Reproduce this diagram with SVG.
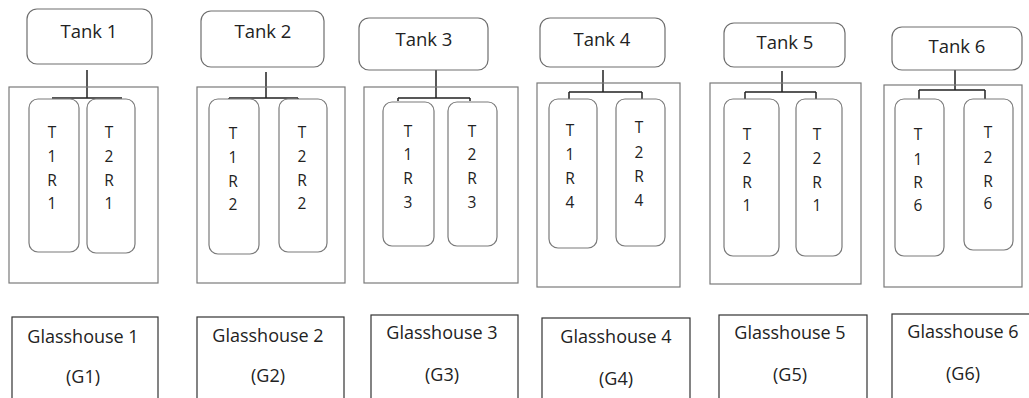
<svg xmlns="http://www.w3.org/2000/svg" width="1029" height="398" viewBox="0 0 1029 398">
<style>
.tank{fill:#fff;stroke:#6e6e6e;stroke-width:1.2}
.outer{fill:none;stroke:#7a7a7a;stroke-width:1.2}
.inner{fill:#fff;stroke:#7a7a7a;stroke-width:1.2}
.gh{fill:#fff;stroke:#333;stroke-width:1.2}
.con{fill:none;stroke:#222;stroke-width:1.5}
text{font-family:"Open Sans","Noto Sans",sans-serif;fill:#222;text-anchor:middle}
.t{font-size:18.5px}
.s{font-size:15.5px}
.g{font-size:18px}
</style>
<rect width="1029" height="398" fill="#fff"/>
<g id="connectors">
<path class="con" d="M87 70V98M52 98H122"/>
<path class="con" d="M266 72V98M229 98H298M229 98V101M298 98V101"/>
<path class="con" d="M436 70V98M398 98H470M398 98V101M470 98V101"/>
<path class="con" d="M603 70V92M569 92H642M569 92V99M642 92V99"/>
<path class="con" d="M782 71V92M745 92H816M745 92V99M816 92V99"/>
<path class="con" d="M955 70V90M919 90H985M919 90V99M985 90V99"/>
</g>
<g id="tank1"><rect class="tank" x="27" y="9" width="125" height="55" rx="10"/><text class="t" x="89" y="38">Tank 1</text></g>
<g id="tank2"><rect class="tank" x="201" y="11" width="123" height="56" rx="10"/><text class="t" x="263" y="38">Tank 2</text></g>
<g id="tank3"><rect class="tank" x="359" y="18" width="129" height="52" rx="10"/><text class="t" x="424" y="46">Tank 3</text></g>
<g id="tank4"><rect class="tank" x="540" y="18" width="125" height="49" rx="10"/><text class="t" x="602" y="46">Tank 4</text></g>
<g id="tank5"><rect class="tank" x="724" y="23" width="121" height="44" rx="10"/><text class="t" x="785" y="49">Tank 5</text></g>
<g id="tank6"><rect class="tank" x="892" y="27" width="130" height="43" rx="10"/><text class="t" x="957" y="53">Tank 6</text></g>

<g id="house1"><rect class="outer" x="9" y="87" width="149" height="196"/></g>
<g id="house2"><rect class="outer" x="197" y="87" width="148" height="196"/></g>
<g id="house3"><rect class="outer" x="364" y="87" width="154" height="196"/></g>
<g id="house4"><rect class="outer" x="537" y="83" width="143" height="204"/></g>
<g id="house5"><rect class="outer" x="710" y="83" width="151" height="201"/></g>
<g id="house6"><rect class="outer" x="884" y="85" width="138" height="202"/></g>

<g id="t1r1a"><rect class="inner" x="29" y="99" width="50" height="153" rx="9"/><text class="s"><tspan x="52" y="138">T</tspan><tspan x="52" y="162">1</tspan><tspan x="52" y="186">R</tspan><tspan x="52" y="209">1</tspan></text></g>
<g id="t2r1a"><rect class="inner" x="87" y="99" width="48" height="154" rx="9"/><text class="s"><tspan x="109" y="138">T</tspan><tspan x="109" y="162">2</tspan><tspan x="109" y="186">R</tspan><tspan x="109" y="209">1</tspan></text></g>

<g id="t1r2"><rect class="inner" x="209" y="99" width="50" height="155" rx="9"/><text class="s"><tspan x="233" y="139">T</tspan><tspan x="233" y="163">1</tspan><tspan x="233" y="187">R</tspan><tspan x="233" y="210">2</tspan></text></g>
<g id="t2r2"><rect class="inner" x="279" y="99" width="48" height="153" rx="9"/><text class="s"><tspan x="302" y="138">T</tspan><tspan x="302" y="162">2</tspan><tspan x="302" y="186">R</tspan><tspan x="302" y="209">2</tspan></text></g>

<g id="t1r3"><rect class="inner" x="383" y="102" width="51" height="144" rx="9"/><text class="s"><tspan x="408" y="137">T</tspan><tspan x="408" y="160">1</tspan><tspan x="408" y="184">R</tspan><tspan x="408" y="208">3</tspan></text></g>
<g id="t2r3"><rect class="inner" x="448" y="102" width="49" height="144" rx="9"/><text class="s"><tspan x="472" y="137">T</tspan><tspan x="472" y="160">2</tspan><tspan x="472" y="184">R</tspan><tspan x="472" y="208">3</tspan></text></g>

<g id="t1r4"><rect class="inner" x="549" y="99" width="48" height="149" rx="9"/><text class="s"><tspan x="570" y="136">T</tspan><tspan x="570" y="160">1</tspan><tspan x="570" y="184">R</tspan><tspan x="570" y="208">4</tspan></text></g>
<g id="t2r4"><rect class="inner" x="616" y="99" width="49" height="147" rx="9"/><text class="s"><tspan x="639" y="133">T</tspan><tspan x="639" y="158">2</tspan><tspan x="639" y="182">R</tspan><tspan x="639" y="206">4</tspan></text></g>

<g id="t2r1b"><rect class="inner" x="724" y="99" width="55" height="157" rx="9"/><text class="s"><tspan x="747" y="140">T</tspan><tspan x="747" y="164">2</tspan><tspan x="747" y="188">R</tspan><tspan x="747" y="211">1</tspan></text></g>
<g id="t2r1c"><rect class="inner" x="796" y="99" width="46" height="157" rx="9"/><text class="s"><tspan x="817" y="140">T</tspan><tspan x="817" y="164">2</tspan><tspan x="817" y="188">R</tspan><tspan x="817" y="211">1</tspan></text></g>

<g id="t1r6"><rect class="inner" x="895" y="99" width="49" height="157" rx="9"/><text class="s"><tspan x="918" y="140">T</tspan><tspan x="918" y="165">1</tspan><tspan x="918" y="188">R</tspan><tspan x="918" y="211">6</tspan></text></g>
<g id="t2r6"><rect class="inner" x="964" y="99" width="49" height="151" rx="9"/><text class="s"><tspan x="988" y="138">T</tspan><tspan x="988" y="163">2</tspan><tspan x="988" y="187">R</tspan><tspan x="988" y="209">6</tspan></text></g>

<g id="g1"><rect class="gh" x="12" y="317" width="146" height="90"/><text class="g"><tspan x="83" y="343">Glasshouse 1</tspan><tspan x="83" y="383">(G1)</tspan></text></g>
<g id="g2"><rect class="gh" x="197" y="317" width="147" height="90"/><text class="g"><tspan x="268" y="342">Glasshouse 2</tspan><tspan x="268" y="382">(G2)</tspan></text></g>
<g id="g3"><rect class="gh" x="371" y="315" width="147" height="90"/><text class="g"><tspan x="442" y="339">Glasshouse 3</tspan><tspan x="442" y="381">(G3)</tspan></text></g>
<g id="g4"><rect class="gh" x="542" y="318" width="148" height="90"/><text class="g"><tspan x="616" y="343">Glasshouse 4</tspan><tspan x="616" y="385">(G4)</tspan></text></g>
<g id="g5"><rect class="gh" x="719" y="315" width="148" height="90"/><text class="g"><tspan x="790" y="339">Glasshouse 5</tspan><tspan x="790" y="381">(G5)</tspan></text></g>
<g id="g6"><rect class="gh" x="892" y="314" width="148" height="90"/><text class="g"><tspan x="963" y="338">Glasshouse 6</tspan><tspan x="963" y="380">(G6)</tspan></text></g>
</svg>
